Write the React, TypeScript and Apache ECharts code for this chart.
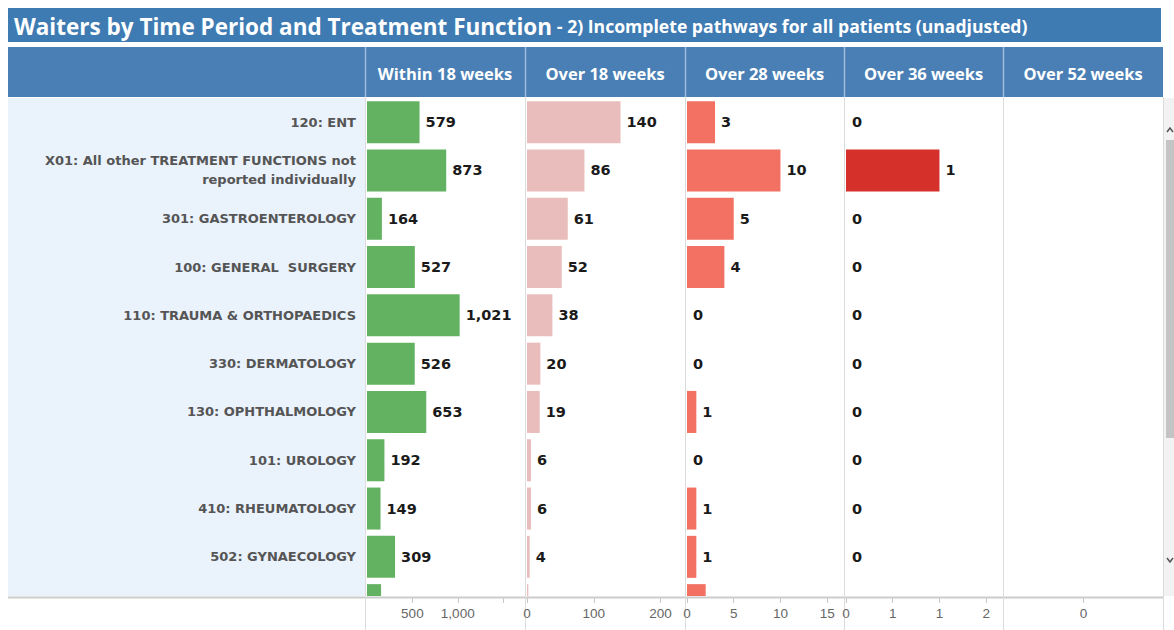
import React, { useEffect, useRef } from "react";
import * as echarts from "echarts";

const categories = [
  "120: ENT",
  "X01: All other TREATMENT FUNCTIONS not\nreported individually",
  "301: GASTROENTEROLOGY",
  "100: GENERAL  SURGERY",
  "110: TRAUMA & ORTHOPAEDICS",
  "330: DERMATOLOGY",
  "130: OPHTHALMOLOGY",
  "101: UROLOGY",
  "410: RHEUMATOLOGY",
  "502: GYNAECOLOGY",
  "",
];
const within18Weeks = [579, 873, 164, 527, 1021, 526, 653, 192, 149, 309, 155];
const over18Weeks = [140, 86, 61, 52, 38, 20, 19, 6, 6, 4, 2];
const over28Weeks = [3, 10, 5, 4, 0, 0, 1, 0, 1, 1, 2];
const over36Weeks = [0, 1, 0, 0, 0, 0, 0, 0, 0, 0, 0];
const over52Weeks = [null, null, null, null, null, null, null, null, null, null, null];

const columnTitles = ["Within 18 weeks", "Over 18 weeks", "Over 28 weeks", "Over 36 weeks", "Over 52 weeks"];
const axisMin = [0, 0, 0, 0, -1];
const axisMax = [1730, 235, 16.8, 1.68, 1];
const axisInterval = [500, 100, 5, 0.5, 1];
const tickValues = [[500, 1000, 1500], [0, 100, 200], [0, 5, 10, 15], [0, 0.5, 1, 1.5], [0]];
const tickLabelValues = [[500, 1000], [0, 100, 200], [0, 5, 10, 15], [0, 0.5, 1, 1.5], [0]];

const chartTitle = "Waiters by Time Period and Treatment Function";
const chartSubtitle = "2) Incomplete pathways for all patients (unadjusted)";

const seriesData = [within18Weeks, over18Weeks, over28Weeks, over36Weeks, over52Weeks];
const barColors = ["#63b262", "#e9bdbb", "#f27163", "#d5302a", "#999999"];

const visibleRows = 10; // the last row is scrolled partly out of view
const colLeft = [367, 527, 687, 846, 1005];
const colWidth = 157;
const bounds = [365, 525, 685, 844, 1003, 1163];
const bodyTop = 98;
const rowH = 48.3;
const bodyBottom = 596;

function fmt(v: number) {
  return Math.round(v).toLocaleString("en-US");
}

export default function App() {
  const ref = useRef<HTMLDivElement>(null);
  useEffect(() => {
    if (!ref.current) return;
    const chart = echarts.init(ref.current, null, { renderer: "svg" });
    const grids: any[] = [];
    const xAxes: any[] = [];
    const yAxes: any[] = [];
    const series: any[] = [];
    for (let i = 0; i < 5; i++) {
      grids.push({ left: colLeft[i], top: bodyTop, width: colWidth, height: rowH * categories.length });
      xAxes.push({ gridIndex: i, type: "value", min: axisMin[i], max: axisMax[i], show: false });
      yAxes.push({
        gridIndex: i,
        type: "category",
        data: categories,
        inverse: true,
        axisLine: { show: false },
        axisTick: { show: false },
        splitLine: { show: false },
        axisLabel: {
          show: i === 0,
          margin: 11,
          align: "right",
          color: "#555555",
          fontFamily: "DejaVu Sans",
          fontWeight: "bold",
          fontSize: 13,
          lineHeight: 19,
        },
      });
      series.push({
        type: "bar",
        name: columnTitles[i],
        xAxisIndex: i,
        yAxisIndex: i,
        data: seriesData[i].map((v, j) => (j < visibleRows ? v : { value: v, label: { show: false } })),
        barCategoryGap: "13%",
        itemStyle: { color: barColors[i] },
        label: {
          show: true,
          position: "right",
          distance: 6,
          color: "#1a1a1a",
          fontFamily: "DejaVu Sans",
          fontWeight: "bold",
          fontSize: 14.5,
          formatter: (p: any) => (p.value == null ? "" : fmt(p.value)),
        },
      });
    }
    // footer axis grids
    for (let i = 0; i < 5; i++) {
      grids.push({ left: colLeft[i], top: 597, width: colWidth, height: 1 });
      xAxes.push({
        gridIndex: 5 + i,
        type: "value",
        min: axisMin[i],
        max: axisMax[i],
        interval: axisInterval[i],
        z: 20,
        axisLine: { show: false },
        splitLine: { show: false },
        axisTick: { show: true, length: 5, customValues: tickValues[i], lineStyle: { color: "#c8c8c8" } },
        axisLabel: {
          margin: 8,
          color: "#666666",
          fontFamily: "Liberation Sans",
          fontSize: 13.5,
          customValues: tickLabelValues[i],
          formatter: (v: number) => fmt(v),
        },
      });
      yAxes.push({ gridIndex: 5 + i, type: "value", min: 0, max: 1, show: false });
    }

    const graphic: any[] = [];
    // title bar
    graphic.push({ type: "rect", z: -10, shape: { x: 8, y: 8, width: 1153, height: 34 }, style: { fill: "#3e7bb3" } });
    graphic.push({
      type: "text",
      z: 30,
      x: 14,
      y: 26,
      style: {
        text: "{a|" + chartTitle + "}{b| - }{c|" + chartSubtitle + "}",
        verticalAlign: "middle",
        fill: "#ffffff",
        rich: {
          a: { fontFamily: "Open Sans", fontWeight: "bold", fontSize: 22.5, fill: "#ffffff" },
          b: { fontFamily: "Open Sans", fontWeight: "bold", fontSize: 18, fill: "#ffffff" },
          c: { fontFamily: "Open Sans", fontWeight: "bold", fontSize: 17.6, fill: "#ffffff" },
        },
      },
    });
    // header
    graphic.push({ type: "rect", z: -10, shape: { x: 8, y: 47, width: 1155, height: 50 }, style: { fill: "#4a7fb5" } });
    for (let i = 0; i < 5; i++) {
      graphic.push({
        type: "line",
        z: 30,
        shape: { x1: bounds[i] + 0.5, y1: 47, x2: bounds[i] + 0.5, y2: 97 },
        style: { stroke: "#9dbbdb", lineWidth: 1.5 },
      });
      graphic.push({
        type: "text",
        z: 30,
        x: (bounds[i] + bounds[i + 1]) / 2,
        y: 73,
        style: {
          text: columnTitles[i],
          align: "center",
          verticalAlign: "middle",
          fill: "#ffffff",
          fontFamily: "Open Sans",
          fontWeight: "bold",
          fontSize: 16.5,
        },
      });
    }
    // left pane background
    graphic.push({ type: "rect", z: -10, shape: { x: 8, y: 98, width: 357, height: bodyBottom - 98 }, style: { fill: "#eaf2fc" } });
    // scrollbar
    graphic.push({ type: "rect", z: -10, shape: { x: 1164, y: 98, width: 10, height: bodyBottom - 98 }, style: { fill: "#f2f2f2" } });
    graphic.push({ type: "rect", z: 30, shape: { x: 1166, y: 140, width: 8, height: 298 }, style: { fill: "#c4c4c4" } });
    graphic.push({ type: "polyline", z: 30, shape: { points: [[1167, 132], [1170, 128], [1173, 132]] }, style: { stroke: "#555", lineWidth: 1.5, fill: null } });
    graphic.push({ type: "polyline", z: 30, shape: { points: [[1167, 558], [1170, 562], [1173, 558]] }, style: { stroke: "#555", lineWidth: 1.5, fill: null } });
    // footer cover
    graphic.push({ type: "rect", z: 15, shape: { x: 0, y: bodyBottom, width: 1174, height: 40 }, style: { fill: "#ffffff" } });
    graphic.push({ type: "line", z: 16, shape: { x1: 8, y1: 597.5, x2: 1163, y2: 597.5 }, style: { stroke: "#cccccc", lineWidth: 2 } });
    // vertical separators
    for (let i = 0; i < bounds.length; i++) {
      graphic.push({
        type: "line",
        z: 16,
        shape: { x1: bounds[i] + 0.5, y1: 97, x2: bounds[i] + 0.5, y2: 630 },
        style: { stroke: "#dcdcdc", lineWidth: 1 },
      });
    }

    chart.setOption({
      animation: false,
      backgroundColor: "#ffffff",
      grid: grids,
      xAxis: xAxes,
      yAxis: yAxes,
      series,
      graphic,
    });
    return () => chart.dispose();
  }, []);
  return (
    <div
      ref={ref}
      style={{ position: "fixed", left: 0, top: 0, width: 1174, height: 630, background: "#fff" }}
    />
  );
}
